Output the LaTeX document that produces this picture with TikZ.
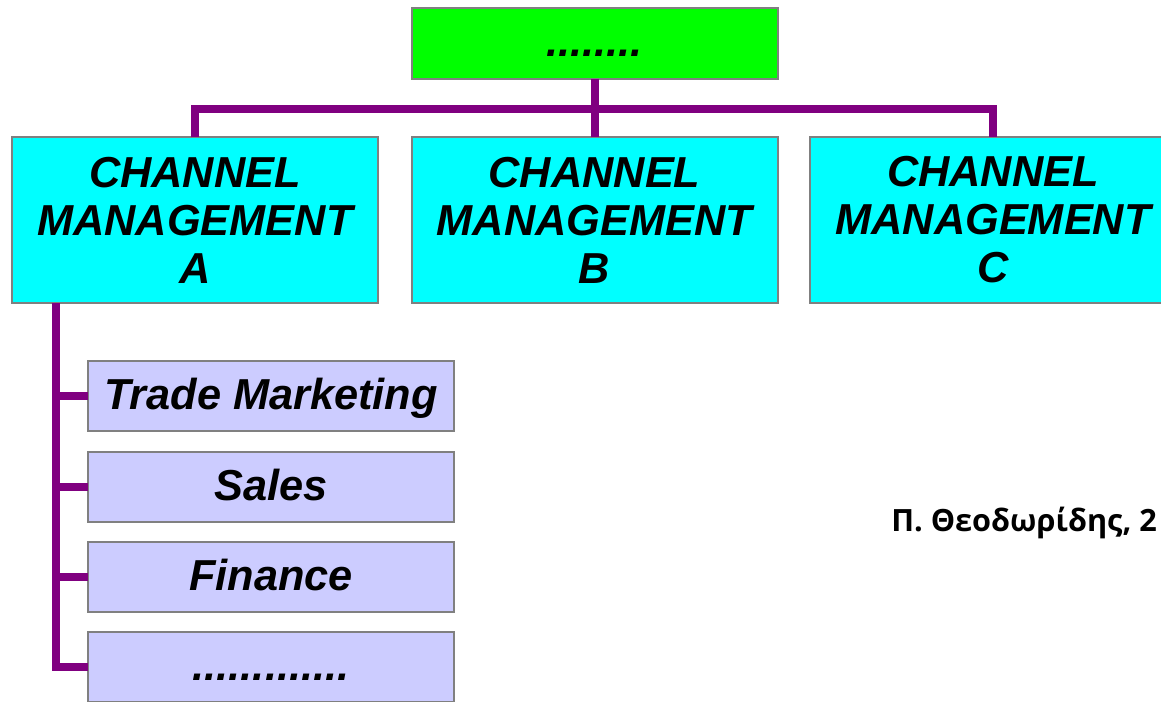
\documentclass[tikz,border=0pt]{standalone}
\usepackage{fontspec}
\setmainfont{Liberation Sans}
\newfontfamily\greekfont{Open Sans}
\usepackage{tikz}
\usepackage{xcolor}
\usetikzlibrary{positioning, calc}

\definecolor{boxgray}{HTML}{808080}
\definecolor{topgreen}{HTML}{00FF00}
\definecolor{chancyan}{HTML}{00FFFF}
\definecolor{unitlilac}{HTML}{CCCCFF}
\definecolor{linkpurple}{HTML}{800080}

\tikzset{
  orgbox/.style={draw=boxgray, line width=1.5pt, inner sep=0pt, outer sep=0pt,
    minimum width=274.5pt, align=center,
    font=\fontsize{32.5}{36}\selectfont\bfseries\itshape},
  topbox/.style={orgbox, fill=topgreen, minimum height=53pt, text height=28pt, text depth=8pt},
  chanbox/.style={orgbox, fill=chancyan, minimum height=124.5pt},
  unitbox/.style={orgbox, fill=unitlilac, minimum height=52.5pt, text height=28pt, text depth=8pt},
  link/.style={linkpurple, line width=6pt}
}

\begin{document}
\begin{tikzpicture}[x=0.75pt, y=-0.75pt]
    % Page frame
    \clip (0,0) rectangle (1161,701);

    % Top level
    \node[topbox] (top) at (594.5, 43.5) {........};

    % Channel management boxes
    \node[chanbox] (chA) at (195, 220) {CHANNEL\\MANAGEMENT\\A};
    \node[chanbox] (chB) at (594.5, 220) {CHANNEL\\MANAGEMENT\\B};
    \node[chanbox] (chC) at (993, 220) {CHANNEL\\MANAGEMENT\\C};

    % Units under A
    \node[unitbox] (trade) at (271, 396) {Trade Marketing};
    \node[unitbox] (sales) at (271, 487) {Sales};
    \node[unitbox] (fin) at (271, 577) {Finance};
    \node[unitbox] (more) at (271, 667) {.............};

    % Connectors from the top
    \coordinate (bus) at (594.5, 109);
    \draw[link] (chA.north) |- (bus) -| (chC.north);
    \draw[link] (top.south) -- (chB.north);

    % Trunk down the left side
    \coordinate (trunk) at (56, 303);
    \draw[link] (chA.south -| trunk) |- (more.west);
    \draw[link] (trunk |- trade.west) -- (trade.west);
    \draw[link] (trunk |- sales.west) -- (sales.west);
    \draw[link] (trunk |- fin.west) -- (fin.west);

    % Author note
    \node[anchor=base west, inner sep=0pt, font=\greekfont\fontsize{23}{27}\selectfont\bfseries] (note) at (891, 531) {Π. Θεοδωρίδης, 2};
\end{tikzpicture}
\end{document}
